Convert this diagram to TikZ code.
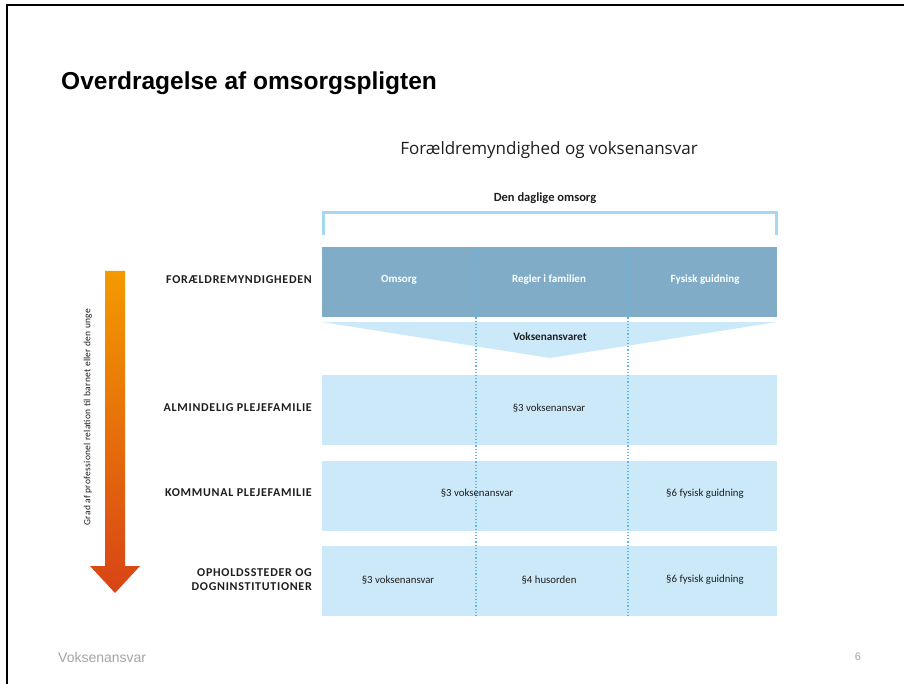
\documentclass[tikz,border=0pt]{standalone}
\usepackage{fontspec}
\setmainfont{Carlito}
\newfontfamily\titlefont{Liberation Sans}
\newfontfamily\subfont{Open Sans}
\newfontfamily\labfont[LetterSpace=6]{Carlito}
\newfontfamily\gradfont[LetterSpace=3]{Carlito}
\definecolor{darkbox}{RGB}{128,172,200}
\definecolor{lightbox}{RGB}{204,233,250}
\definecolor{bracketc}{RGB}{165,215,243}
\definecolor{dotc}{RGB}{100,180,230}
\definecolor{labc}{RGB}{30,30,30}
\definecolor{arrtop}{RGB}{244,154,0}
\definecolor{arrbot}{RGB}{216,68,22}
\definecolor{footc}{RGB}{165,165,165}
\begin{document}
\begin{tikzpicture}[x=1pt,y=-1pt,
  rowbox/.style={fill=lightbox, draw=none, minimum width=455, minimum height=70, anchor=north west, inner sep=0},
  headbox/.style={fill=darkbox, draw=none, minimum width=455, minimum height=70, anchor=north west, inner sep=0},
  lab/.style={font=\labfont\fontsize{12}{14}\selectfont\bfseries, text=labc, anchor=east, align=right, inner sep=0},
  cell/.style={font=\fontsize{10.8}{12}\selectfont, text=labc, inner sep=0},
  hcell/.style={font=\fontsize{11}{12}\selectfont\bfseries, text=white, inner sep=0},
  dotline/.style={draw=dotc, dotted, line width=1.2pt},
]
\useasboundingbox (0,0) rectangle (904,684);
\fill[white] (0,0) rectangle (904,684);
% slide frame
\draw[line width=2pt, black] (7,684) -- (7,5) -- (904,5);

% titles
\node[anchor=west, inner sep=0, font=\titlefont\fontsize{24.5}{27}\selectfont\bfseries] (title) at (61,83) {Overdragelse af omsorgspligten};
\node[inner sep=0, font=\subfont\fontsize{17}{19}\selectfont, text=labc] (sub) at (549,150) {Forældremyndighed og voksenansvar};
\node[inner sep=0, font=\fontsize{12.5}{14}\selectfont\bfseries, text=labc] (daglig) at (545,198) {Den daglige omsorg};

% bracket
\coordinate (bl) at (323,235);
\coordinate (blt) at (323,213);
\coordinate (brt) at (776,213);
\coordinate (br) at (776,235);
\draw[bracketc, line width=3pt] (bl) -- (blt) -- (brt) -- (br);

% header box
\node[headbox] (head) at (322,247) {};
\node[hcell] (c1) at (399,280) {Omsorg};
\node[hcell] (c2) at (549,280) {Regler i familien};
\node[hcell] (c3) at (705,280) {Fysisk guidning};

% triangle
\coordinate (tl) at (322,322);
\coordinate (tr) at (777,322);
\coordinate (tb) at (550,358);
\fill[lightbox] (tl) -- (tr) -- (tb) -- cycle;
\node[font=\fontsize{11.2}{12}\selectfont\bfseries, text=labc, inner sep=0] (vok) at (550,337) {Voksenansvaret};

% rows
\node[rowbox] (r1) at (322,375) {};
\node[rowbox] (r2) at (322,461) {};
\node[rowbox] (r3) at (322,546) {};

% dotted dividers
\coordinate (d1t) at (476,247);
\coordinate (d1b) at (476,616);
\coordinate (d2t) at (628,247);
\coordinate (d2b) at (628,616);
\draw[dotline] (d1t) -- (d1b);
\draw[dotline] (d2t) -- (d2b);

% row texts
\node[cell] (t11) at (549,408) {§3 voksenansvar};
\node[cell] (t21) at (477,493) {§3 voksenansvar};
\node[cell] (t22) at (705,494) {§6 fysisk guidning};
\node[cell] (t31) at (398,580) {§3 voksenansvar};
\node[cell] (t32) at (549,580) {§4 husorden};
\node[cell] (t33) at (705,580) {§6 fysisk guidning};

% left labels
\node[lab] (l0) at (312,280) {FORÆLDREMYNDIGHEDEN};
\node[lab] (l1) at (312,408) {ALMINDELIG PLEJEFAMILIE};
\node[lab] (l2) at (312,493) {KOMMUNAL PLEJEFAMILIE};
\node[lab] (l3) at (312,580) {OPHOLDSSTEDER OG\\DOGNINSTITUTIONER};

% gradient arrow
\shade[top color=arrtop, bottom color=arrbot] (105,271) -- (125,271) -- (125,566) -- (140,566) -- (115,593) -- (90,566) -- (105,566) -- cycle;
\node[rotate=90, inner sep=0, font=\gradfont\fontsize{9.5}{11}\selectfont, text=labc] (grad) at (88,417) {Grad af professionel relation til barnet eller den unge};

% footer
\node[anchor=west, inner sep=0, font=\titlefont\fontsize{14}{16}\selectfont, text=footc] (foot) at (58,657) {Voksenansvar};
\node[inner sep=0, font=\titlefont\fontsize{11}{12}\selectfont, text=footc] (page) at (858,657) {6};
\end{tikzpicture}
\end{document}
